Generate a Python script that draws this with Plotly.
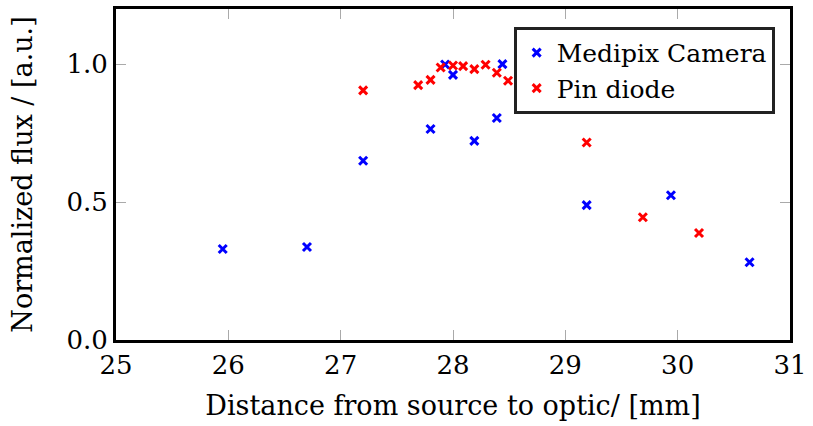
import plotly.graph_objects as go

medipix_x = [25.95, 26.70, 27.20, 27.80, 27.93, 28.00, 28.19, 28.39, 28.44, 29.19, 29.94, 30.64]
medipix_y = [0.330, 0.337, 0.650, 0.765, 0.999, 0.961, 0.722, 0.805, 1.000, 0.489, 0.525, 0.282]

pin_x = [27.20, 27.69, 27.80, 27.89, 28.00, 28.09, 28.19, 28.29, 28.39, 28.49, 29.19, 29.69, 30.19]
pin_y = [0.905, 0.924, 0.943, 0.988, 0.995, 0.993, 0.982, 0.998, 0.969, 0.940, 0.716, 0.445, 0.388]

x_ticks = [25, 26, 27, 28, 29, 30, 31]
y_ticks = [0.0, 0.5, 1.0]
y_tick_labels = ["0.0", "0.5", "1.0"]

FONT = "DejaVu Serif"

fig = go.Figure()
fig.add_trace(go.Scatter(x=medipix_x, y=medipix_y, mode="markers", name="Medipix Camera",
                         marker=dict(symbol="x-thin", size=8, color="#0000ff",
                                     line=dict(width=3, color="#0000ff"))))
fig.add_trace(go.Scatter(x=pin_x, y=pin_y, mode="markers", name="Pin diode",
                         marker=dict(symbol="x-thin", size=8, color="#ff0000",
                                     line=dict(width=3, color="#ff0000"))))

axis_common = dict(showgrid=False, zeroline=False, showline=True, linewidth=3, linecolor="black",
                   mirror="ticks", ticks="inside", ticklen=10, tickwidth=1, tickcolor="#aaaaaa",
                   ticklabeloverflow="allow",
                   tickfont=dict(family=FONT, size=26, color="black"))

fig.update_layout(
    width=813, height=426,
    margin=dict(l=116, r=16, t=6, b=86),
    plot_bgcolor="white", paper_bgcolor="white",
    font=dict(family=FONT, size=26, color="black"),
    xaxis=dict(range=[25, 31], tickvals=x_ticks, ticktext=[str(v) for v in x_ticks],
               title=dict(text="Distance from source to optic/ [mm]", font=dict(family=FONT, size=27), standoff=17),
               **axis_common),
    yaxis=dict(range=[0, 1.2], tickvals=y_ticks, ticktext=y_tick_labels,
               title=dict(text="Normalized flux / [a.u.]", font=dict(family=FONT, size=27), standoff=26),
               **axis_common),
    legend=dict(x=0.59, y=0.946, xanchor="left", yanchor="top", bordercolor="#222222", borderwidth=3,
                bgcolor="white", font=dict(family=FONT, size=25), itemwidth=30,
                tracegroupgap=0),
    showlegend=True,
)

fig.write_html("out.html")
